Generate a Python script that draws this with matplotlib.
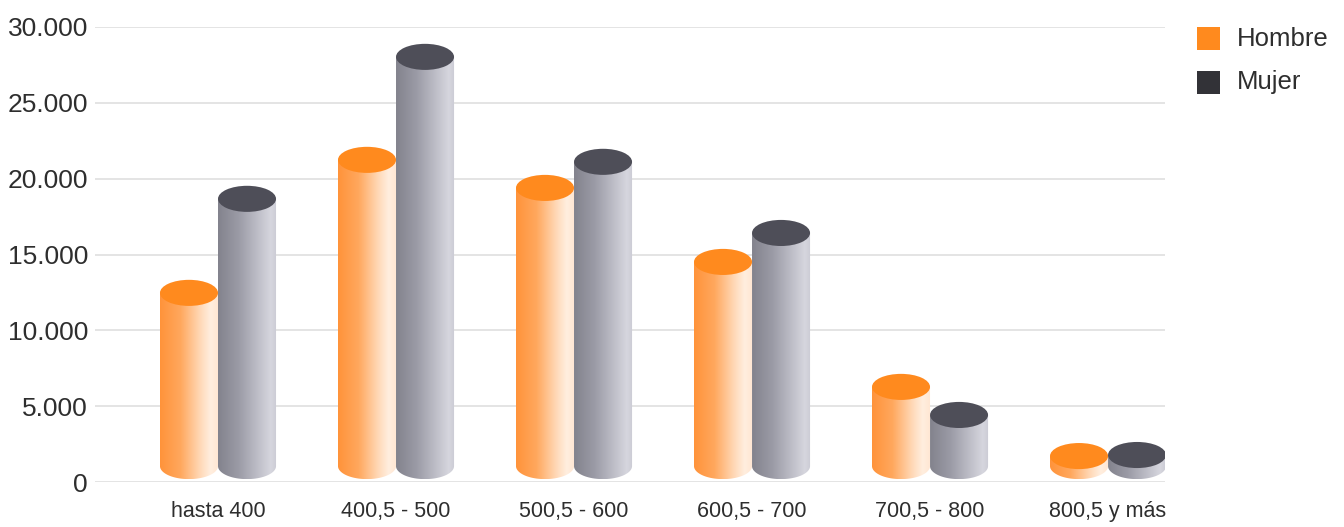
import numpy as np
import matplotlib
matplotlib.use("Agg")
import matplotlib.pyplot as plt
from matplotlib import font_manager
from matplotlib.path import Path
from matplotlib.patches import PathPatch, Ellipse, Rectangle
from matplotlib.colors import LinearSegmentedColormap

# ---------------- data ----------------
categories = ["hasta 400", "400,5 - 500", "500,5 - 600", "600,5 - 700", "700,5 - 800", "800,5 y más"]
hombre = [12470, 21240, 19390, 14510, 6270, 1710]
mujer = [18670, 28030, 21110, 16420, 4420, 1780]
series_names = ["Hombre", "Mujer"]
yticks = [0, 5000, 10000, 15000, 20000, 25000, 30000]

# ---------------- font ----------------
available = {f.name for f in font_manager.fontManager.ttflist}
family = "DejaVu Sans"
for cand in ["Liberation Sans Narrow", "DejaVu Sans Condensed", "Liberation Sans"]:
    if cand in available:
        family = cand
        break
plt.rcParams["font.family"] = [family, "DejaVu Sans"]
text_color = "#2e2e2e"

W, H = 1344, 527
fig = plt.figure(figsize=(W / 100, H / 100), dpi=100)
ax = fig.add_axes([95 / W, 45 / H, (1165 - 95) / W, (482 - 27) / H])

orange_cmap = LinearSegmentedColormap.from_list(
    "o", [(0.0, "#ff933a"), (0.35, "#ffa85e"), (0.68, "#ffd8b6"), (0.86, "#ffeedf"), (1.0, "#ffe6d2")])
gray_cmap = LinearSegmentedColormap.from_list(
    "g", [(0.0, "#83838d"), (0.35, "#9b9ba6"), (0.75, "#c6c6cf"), (0.9, "#d6d6de"), (1.0, "#cbcbd4")])
grad = np.linspace(0, 1, 256).reshape(1, -1)

base_level = 1050
semi = 860
bar_w = 0.326


def cylinder(xc, value, cmap, topcolor, z):
    x0, x1 = xc - bar_w / 2, xc + bar_w / 2
    base = min(base_level, value)
    top = value
    th = np.linspace(np.pi, 2 * np.pi, 80)
    arc = np.column_stack([xc + bar_w / 2 * np.cos(th), base + semi * np.sin(th)])
    verts = [(x0, top), (x0, base)] + [tuple(p) for p in arc] + [(x1, top), (x0, top)]
    codes = [Path.MOVETO] + [Path.LINETO] * (len(verts) - 2) + [Path.CLOSEPOLY]
    patch = PathPatch(Path(verts, codes), facecolor="none", edgecolor="none", zorder=z)
    ax.add_patch(patch)
    im = ax.imshow(grad, extent=[x0, x1, base - semi, top], aspect="auto", cmap=cmap,
                   origin="lower", zorder=z, interpolation="bilinear")
    im.set_clip_path(patch)
    ax.add_patch(Ellipse((xc, top), bar_w, 2 * semi, facecolor=topcolor, edgecolor="none", zorder=z + 0.5))


x = np.arange(len(categories))
for i in range(len(categories)):
    cylinder(x[i] + bar_w / 2, mujer[i], gray_cmap, "#4e4e58", 3)
    cylinder(x[i] - bar_w / 2, hombre[i], orange_cmap, "#ff8a1e", 4)

ax.set_xlim(-0.691, 5.32)
ax.set_ylim(0, 30000)
ax.set_yticks(yticks)
ax.set_yticklabels([f"{v:,}".replace(",", ".") for v in yticks])
ax.set_xticks(x)
ax.set_xticklabels(categories)
ax.tick_params(axis="y", length=0, pad=5, labelsize=19, labelcolor=text_color)
ax.tick_params(axis="x", length=0, pad=14, labelsize=15.5, labelcolor=text_color)
for s in ax.spines.values():
    s.set_visible(False)
ax.yaxis.grid(True, color="#e2e2e2", lw=1.3)
ax.set_axisbelow(True)

# legend
leg_colors = ["#ff8a1e", "#323237"]
leg_y = [27, 71]
for name, col, yt in zip(series_names, leg_colors, leg_y):
    fig.patches.append(Rectangle((1197 / W, 1 - (yt + 23) / H), 23 / W, 23 / H,
                                 transform=fig.transFigure, facecolor=col, edgecolor="none"))
    fig.text(1237 / W, 1 - (yt + 11.5) / H, name, fontsize=18.5, color=text_color,
             ha="left", va="center")

fig.savefig("out.png", dpi=100)
